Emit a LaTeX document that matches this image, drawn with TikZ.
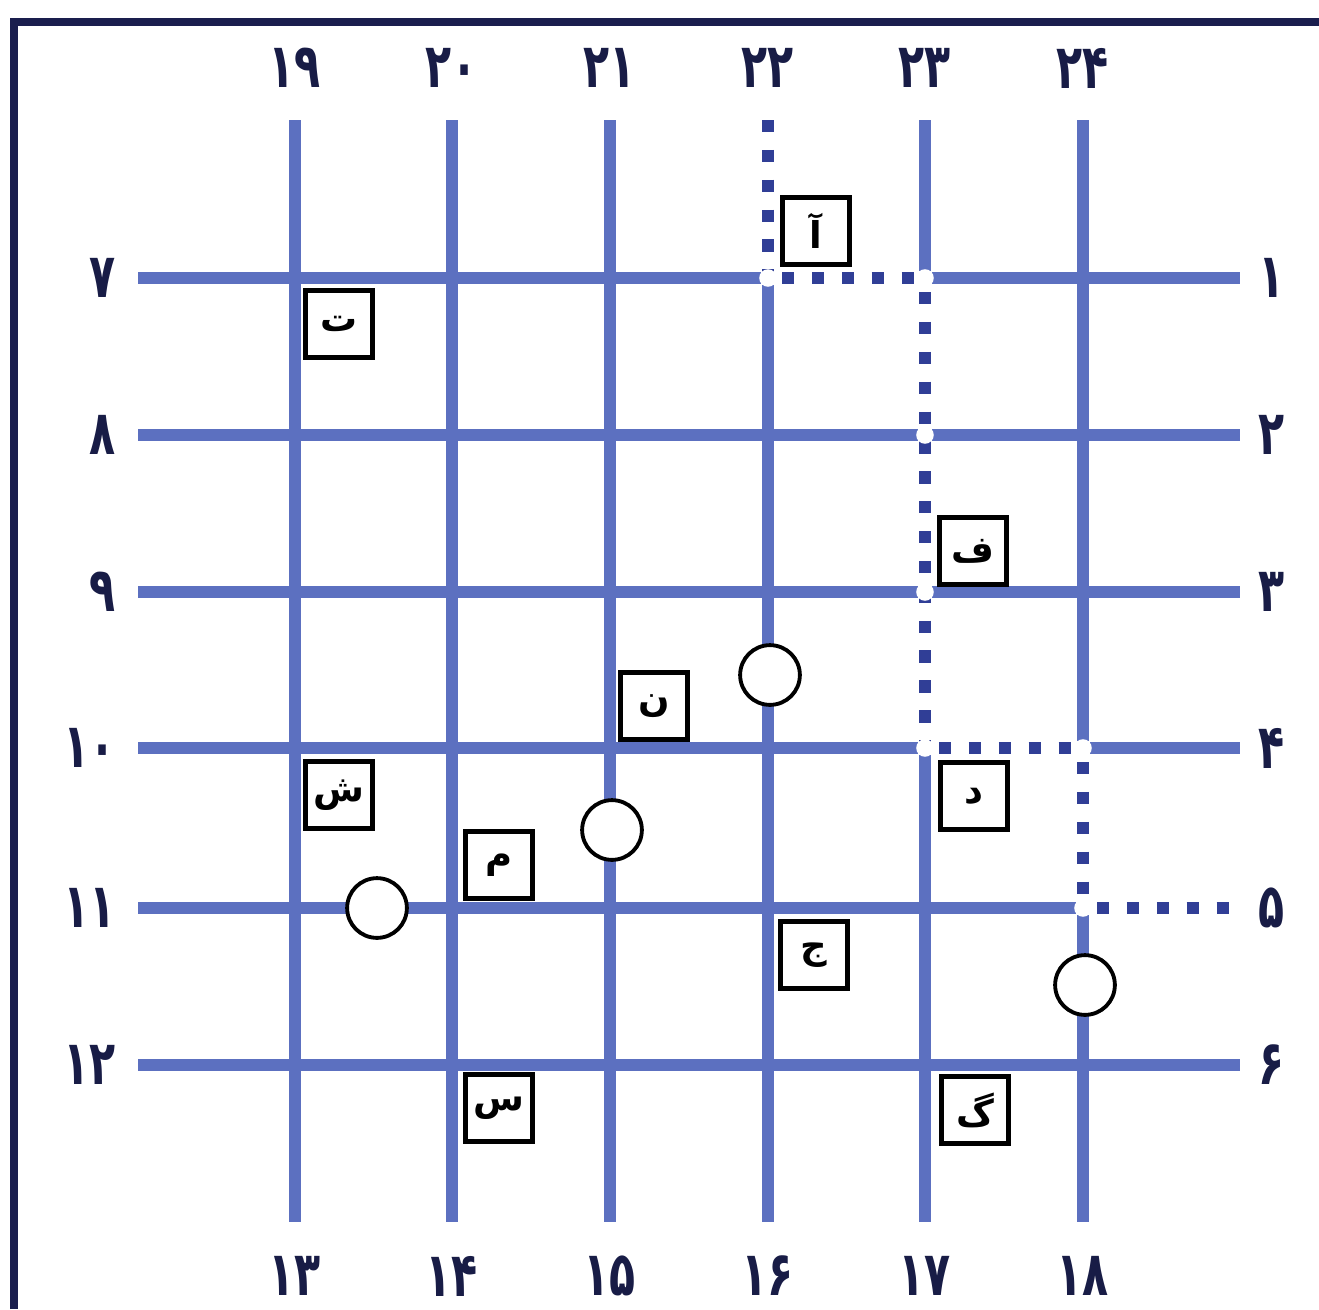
\documentclass[tikz,border=0pt]{standalone}
\usepackage{graphicx}
\usepackage{fontspec}
\newfontfamily\arabicfont[Script=Arabic]{DejaVu Sans}
\TeXXeTstate=1
\definecolor{gridblue}{RGB}{92,112,192}
\definecolor{dotblue}{RGB}{48,62,150}
\definecolor{framenavy}{RGB}{26,30,78}
\definecolor{labelnavy}{RGB}{24,28,70}
\newcommand{\tallnum}[1]{\scalebox{0.9}[1.3]{#1}}
\tikzset{
  gridline/.style={draw=gridblue, line width=6.8pt, line cap=butt},
  whiteunder/.style={draw=white, line width=8.5pt, line cap=butt},
  dotline/.style={draw=dotblue, line width=7pt, line cap=butt, dash pattern=on 7pt off 10pt},
  gap/.style={circle, fill=white, draw=none, minimum size=10pt, inner sep=0pt},
  letterbox/.style={draw=black, fill=white, line width=2.6pt, minimum size=38pt, inner sep=0pt,
     font=\arabicfont\bfseries\fontsize{21}{25}\selectfont},
  station/.style={circle, draw=black, fill=white, line width=2.2pt, minimum size=34pt, inner sep=0pt},
  numlabel/.style={text=labelnavy, inner sep=0pt, font=\arabicfont\bfseries\fontsize{27}{31}\selectfont}
}
\begin{document}
\begin{tikzpicture}[x=0.02cm, y=-0.02cm]
\useasboundingbox (0,0) rectangle (1319,1309);
\fill[white] (0,0) rectangle (1319,1309);
% frame
\draw[framenavy, line width=4.5pt] (14,1309) -- (14,22) -- (1319,22);
% coordinates of grid
\foreach \n/\x in {1/295,2/452,3/610,4/768,5/925,6/1083} {
  \coordinate (ct\n) at (\x,120);
  \coordinate (cb\n) at (\x,1222);
}
\foreach \n/\y in {1/278,2/435,3/592,4/748,5/908,6/1065} {
  \coordinate (rl\n) at (138,\y);
  \coordinate (rr\n) at (1240,\y);
}
% path corner points
\coordinate (p1) at (768,278);
\coordinate (p2) at (925,278);
\coordinate (p3) at (925,748);
\coordinate (p4) at (1083,748);
\coordinate (p5) at (1083,908);
\coordinate (x1) at (925,435);
\coordinate (x2) at (925,592);
% solid grid segments
\draw[gridline] (ct1) -- (cb1);
\draw[gridline] (ct2) -- (cb2);
\draw[gridline] (ct3) -- (cb3);
\draw[gridline] (p1) -- (cb4);
\draw[gridline] (ct5) -- (p2);
\draw[gridline] (p3) -- (cb5);
\draw[gridline] (ct6) -- (p4);
\draw[gridline] (p5) -- (cb6);
\draw[gridline] (rl1) -- (p1);
\draw[gridline] (p2) -- (rr1);
\draw[gridline] (rl2) -- (rr2);
\draw[gridline] (rl3) -- (rr3);
\draw[gridline] (rl4) -- (p3);
\draw[gridline] (p4) -- (rr4);
\draw[gridline] (rl5) -- (p5);
\draw[gridline] (rl6) -- (rr6);
% dotted path
\draw[whiteunder] (ct4) -- (p1) -- (p2) -- (p3) -- (p4) -- (p5) -- (rr5);
\draw[dotline] (ct4) -- (p1);
\draw[dotline] ([xshift=8pt]p1) -- (p2);
\draw[dotline] ([yshift=-8pt]p2) -- (p3);
\draw[dotline] ([xshift=8pt]p3) -- (p4);
\draw[dotline] ([yshift=-8pt]p4) -- (p5);
\draw[dotline] ([xshift=8pt]p5) -- (rr5);
\foreach \c in {p1,p2,p3,p4,p5,x1,x2} \node[gap] at (\c) {};
% labels
\foreach \n/\t in {1/۱۹,2/۲۰,3/۲۱,4/۲۲,5/۲۳,6/۲۴} \node[numlabel] (tl\n) at (ct\n |- 0,68) {\tallnum{\t}};
\foreach \n/\t in {1/۱۳,2/۱۴,3/۱۵,4/۱۶,5/۱۷,6/۱۸} \node[numlabel] (bl\n) at (cb\n |- 0,1276) {\tallnum{\t}};
\foreach \n/\t in {1/۷,2/۸,3/۹,4/۱۰,5/۱۱,6/۱۲} \node[numlabel, anchor=east] (ll\n) at (116,0 |- rl\n) {\tallnum{\t}};
\foreach \n/\t in {1/۱,2/۲,3/۳,4/۴,5/۵,6/۶} \node[numlabel, anchor=west] (lr\n) at (1258,0 |- rr\n) {\tallnum{\t}};
% letter boxes
\node[letterbox] (bA) at (816,231) {\beginR آ\endR};
\node[letterbox] (bT) at (339,324) {\beginR ت\endR};
\node[letterbox] (bF) at (973,551) {\beginR ف\endR};
\node[letterbox] (bN) at (654,706) {\beginR ن\endR};
\node[letterbox] (bSh) at (339,795) {\beginR ش\endR};
\node[letterbox] (bD) at (974,796) {\beginR د\endR};
\node[letterbox] (bM) at (499,865) {\beginR م\endR};
\node[letterbox] (bJ) at (814,955) {\beginR ج\endR};
\node[letterbox] (bS) at (499,1108) {\beginR س\endR};
\node[letterbox] (bG) at (975,1110) {\beginR گ\endR};
% stations
\node[station] (s1) at (770,675) {};
\node[station] (s2) at (612,830) {};
\node[station] (s3) at (377,908) {};
\node[station] (s4) at (1085,985) {};
\end{tikzpicture}
\end{document}
